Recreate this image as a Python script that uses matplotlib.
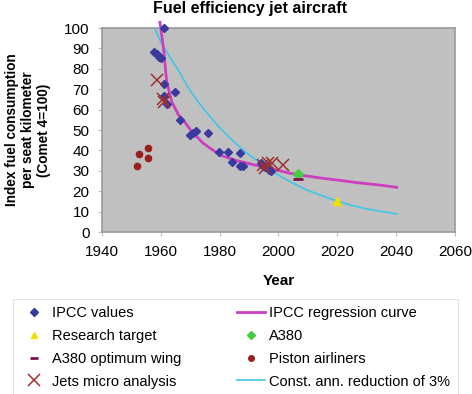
import numpy as np
import matplotlib
matplotlib.use('Agg')
import matplotlib.pyplot as plt
from matplotlib.lines import Line2D

plt.rcParams['font.family'] = ['Liberation Sans', 'DejaVu Sans']

# IPCC values (blue diamonds)
ipcc_year = [1961.0, 1957.6, 1958.6, 1959.4, 1960.2, 1961.0, 1961.0, 1962.0, 1964.8,
             1966.6, 1969.9, 1970.8, 1971.8, 1976.0, 1979.9, 1982.7, 1984.1, 1986.9,
             1986.8, 1987.9, 1994.0, 1994.8, 1995.4, 1996.7, 1997.5]
ipcc_val = [100.0, 88.4, 87.1, 85.9, 85.4, 72.4, 66.5, 62.6, 68.6,
            54.7, 47.5, 48.6, 49.6, 48.7, 39.4, 39.4, 34.5, 38.6,
            32.4, 32.4, 33.7, 32.4, 32.0, 30.4, 29.8]

# IPCC regression curve
reg_year = [1959.7, 1960.9, 1962.0, 1963.7, 1966.0, 1967.6, 1970.5, 1974.4, 1980.1,
            1985.8, 1992.6, 2000.5, 2003.9, 2007.3, 2015.2, 2020.9, 2026.6, 2034.5, 2040.2]
reg_val = [102.8, 90.0, 73.7, 63.9, 57.4, 55.0, 49.2, 43.5, 37.7,
           35.0, 32.6, 30.0, 28.8, 27.9, 26.3, 25.3, 24.2, 23.0, 21.9]

# Const. annual reduction of 3%
red_year = [1957.7, 1960, 1963, 1966.5, 1969, 1972.2, 1975, 1978, 1980.1, 1983,
            1985.8, 1989, 1992.6, 1995, 1998, 2001, 2003.9, 2006.5, 2009.6, 2014,
            2019.8, 2025, 2030, 2035, 2040.2]
red_val = [100.6, 93.2, 85.9, 78.0, 71.5, 64.7, 59.6, 54.4, 51.0, 46.7,
           43.0, 38.9, 35.1, 32.4, 29.6, 27.0, 24.7, 22.8, 20.6, 18.2,
           15.2, 13.0, 11.3, 10.1, 8.8]

# Jets micro analysis (x marks)
jets_year = [1958.6, 1960.6, 1961.1, 1994.8, 1996.5, 1997.7, 1995.4, 2001.6]
jets_val = [74.5, 65.0, 63.5, 32.8, 33.7, 33.7, 31.2, 32.8]

# Piston airliners
piston_year = [1951.8, 1952.7, 1955.7, 1955.7]
piston_val = [32.5, 38.1, 41.0, 36.1]

a380_year, a380_val = [2006.7], [28.4]
wing_year, wing_val = [2006.7], [26.0]
target_year, target_val = [2019.8], [15.3]

fig = plt.figure(figsize=(4.72, 3.94), dpi=100)
ax = fig.add_axes([102/472, 1-232/394, 353/472, 204/394])
ax.set_facecolor('#c0c0c0')
for s in ax.spines.values():
    s.set_color('#9a9a9a')
    s.set_linewidth(1.2)

c_blue = '#3a3a9e'
c_mag = '#cc3fbf'
c_cyan = '#3fc6e6'
c_x = '#9b3030'
c_pist = '#9a1f1f'

ax.plot(red_year, red_val, color=c_cyan, lw=1.2, zorder=2)
ax.plot(reg_year, reg_val, color=c_mag, lw=2.0, zorder=2, clip_on=False)
ax.plot(ipcc_year, ipcc_val, 'D', color=c_blue, ms=4.5, ls='none', zorder=3, clip_on=False)
ax.plot(jets_year, jets_val, 'x', color=c_x, ms=9, mew=1.1, ls='none', zorder=4)
ax.plot(piston_year, piston_val, 'o', color=c_pist, ms=4.5, ls='none', zorder=3)
ax.plot(a380_year, a380_val, 'D', color='#44cc44', ms=5, ls='none', zorder=5)
ax.plot(wing_year, wing_val, '_', color='#7a1050', ms=7, mew=2, ls='none', zorder=5)
ax.plot(target_year, target_val, '^', color='#f0e000', ms=6, ls='none', zorder=5)

ax.set_xlim(1940, 2060)
ax.set_ylim(0, 100)
ax.set_xticks(np.arange(1940, 2061, 20))
ax.set_yticks(np.arange(0, 101, 10))
ax.tick_params(labelsize=11, color='#bbbbbb', length=3, pad=6)
ax.set_xlabel('Year', fontsize=11, fontweight='bold', labelpad=11)
ax.set_ylabel('Index fuel consumption\nper seat kilometer\n(Comet 4=100)',
              fontsize=9.8, fontweight='bold', labelpad=9, linespacing=1.2)
fig.text(250/472, 1-9/394, 'Fuel efficiency jet aircraft', ha='center', va='center',
         fontsize=11.5, fontweight='bold')

handles = [
    Line2D([], [], marker='D', color=c_blue, ls='none', ms=4),
    Line2D([], [], marker='^', color='#f0e000', ls='none', ms=5),
    Line2D([], [], marker='_', color='#7a1050', ls='none', ms=6, mew=2),
    Line2D([], [], marker='x', color=c_x, ls='none', ms=8, mew=1.1),
    Line2D([], [], color=c_mag, lw=2),
    Line2D([], [], marker='D', color='#44cc44', ls='none', ms=4),
    Line2D([], [], marker='o', color=c_pist, ls='none', ms=4),
    Line2D([], [], color=c_cyan, lw=1.2),
]
labels = ['IPCC values', 'Research target', 'A380 optimum wing', 'Jets micro analysis',
          'IPCC regression curve', 'A380', 'Piston airliners', 'Const. ann. reduction of 3%']
leg = fig.legend(handles, labels, ncol=2, loc='upper left',
                 bbox_to_anchor=(13/472, 1-299/394), borderaxespad=0,
                 fontsize=10.5, frameon=True, fancybox=False, handlelength=1.9,
                 labelspacing=0.6, borderpad=0.5, handletextpad=0.3,
                 columnspacing=3.8)
leg.get_frame().set_edgecolor('#dddddd')
leg.get_frame().set_linewidth(0.8)

fig.savefig('out.png', dpi=100)
